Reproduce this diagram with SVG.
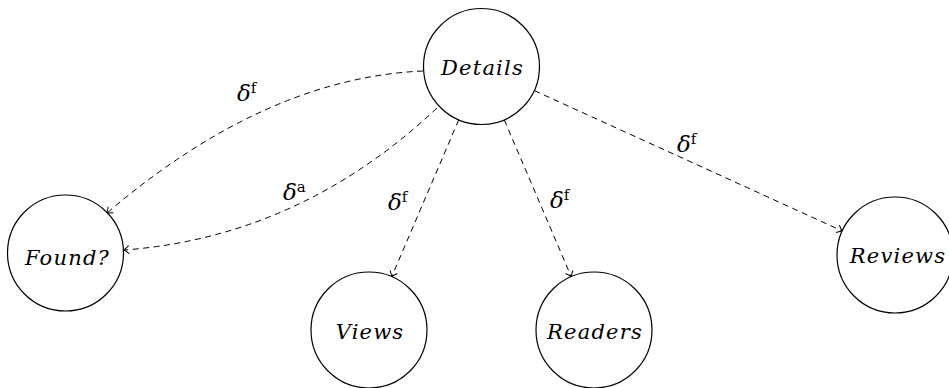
<svg xmlns="http://www.w3.org/2000/svg" width="949" height="388" viewBox="0 0 949 388">
  <style>
    .node circle { fill: #fff; stroke: #000; stroke-width: 1.2; }
    .node text { font-family: "DejaVu Serif", "Liberation Serif", serif; font-style: italic; font-size: 21px; letter-spacing: 1.2px; text-anchor: middle; fill: #000; }
    .edge { fill: none; stroke: #000; stroke-width: 1; stroke-dasharray: 6 4.5; marker-end: url(#tip); }
    .lbl { font-family: "DejaVu Serif", "Liberation Serif", serif; font-size: 23px; fill: #000; }
    .lbl .d { font-style: italic; }
    .lbl .s { font-size: 15px; }
  </style>
  <defs>
    <marker id="tip" viewBox="-6 -5 8 10" markerWidth="8" markerHeight="10" refX="0" refY="0" orient="auto" markerUnits="userSpaceOnUse">
      <path d="M -5 -4 Q -1.5 -1 0 0 Q -1.5 1 -5 4" fill="none" stroke="#000" stroke-width="1"/>
    </marker>
  </defs>

  <!-- connectors -->
  <g id="edges">
    <path class="edge" d="M 423 71 Q 265 78 107 213"/>
    <path class="edge" d="M 437 108 Q 300 237 124 250"/>
    <path class="edge" d="M 458.7 119.9 L 391.8 276.6"/>
    <path class="edge" d="M 504.3 119.9 L 571.2 276.6"/>
    <path class="edge" d="M 534.3 90.6 L 842.2 230.9"/>
  </g>

  <!-- edge labels -->
  <g id="labels">
    <text class="lbl" x="237" y="101"><tspan class="d">δ</tspan><tspan class="s" dy="-8">f</tspan></text>
    <text class="lbl" x="283" y="200"><tspan class="d">δ</tspan><tspan class="s" dy="-8">a</tspan></text>
    <text class="lbl" x="388" y="210"><tspan class="d">δ</tspan><tspan class="s" dy="-8">f</tspan></text>
    <text class="lbl" x="550" y="208"><tspan class="d">δ</tspan><tspan class="s" dy="-8">f</tspan></text>
    <text class="lbl" x="677" y="152"><tspan class="d">δ</tspan><tspan class="s" dy="-8">f</tspan></text>
  </g>

  <!-- nodes -->
  <g id="details" class="node">
    <circle cx="481.5" cy="66.5" r="58"/>
    <text x="482.5" y="75">Details</text>
  </g>
  <g id="found" class="node">
    <circle cx="65.5" cy="253" r="58"/>
    <text x="67.5" y="265">Found?</text>
  </g>
  <g id="views" class="node">
    <circle cx="369" cy="330" r="58"/>
    <text x="370" y="339">Views</text>
  </g>
  <g id="readers" class="node">
    <circle cx="594" cy="330" r="58"/>
    <text x="595" y="339">Readers</text>
  </g>
  <g id="reviews" class="node">
    <circle cx="895" cy="255" r="58"/>
    <text x="898" y="263">Reviews</text>
  </g>
</svg>
